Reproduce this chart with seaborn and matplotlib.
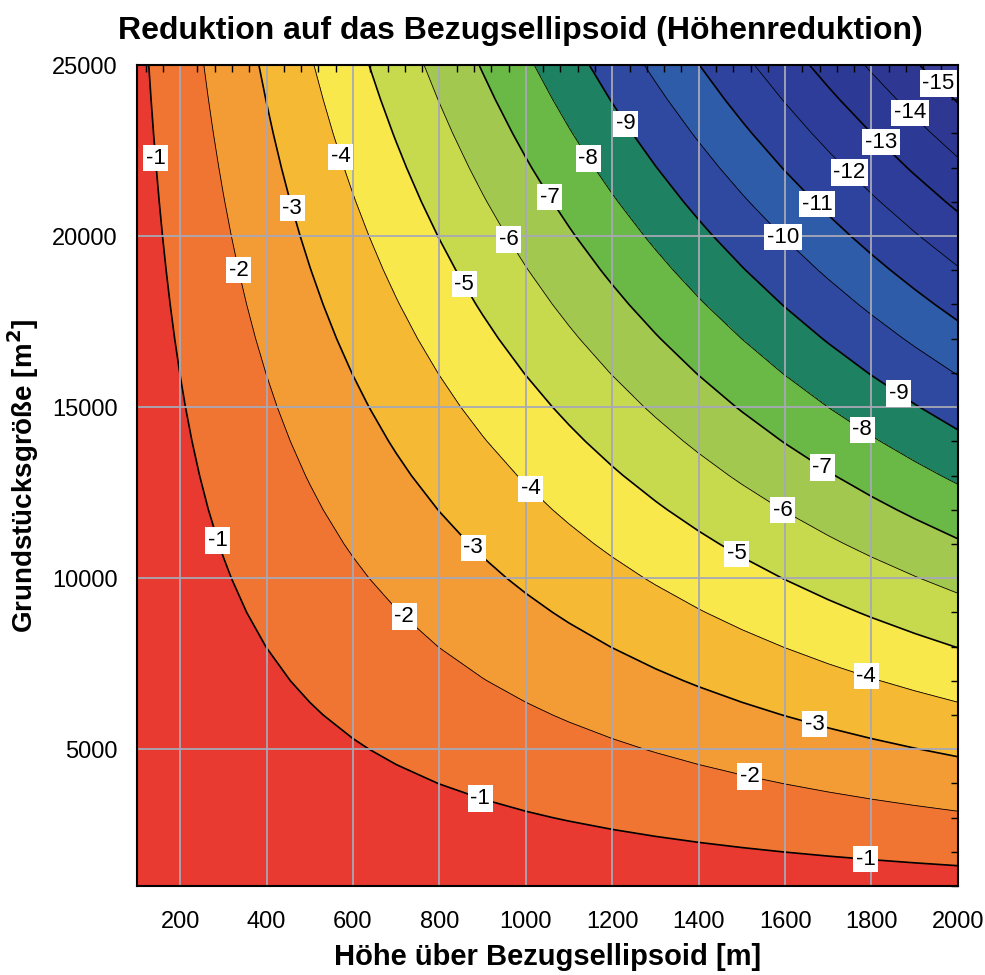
import numpy as np
import matplotlib
matplotlib.use('Agg')
import matplotlib.pyplot as plt
from matplotlib.ticker import MultipleLocator
import seaborn as sns

# Grid of the underlying table (height in m, plot area in m^2)
hoehe = [100, 200, 300, 400, 500, 600, 700, 800, 900, 1000,
         1100, 1200, 1300, 1400, 1500, 1600, 1700, 1800, 1900, 2000]
flaeche = [1000, 2000, 3000, 4000, 5000, 6000, 7000, 8000, 9000, 10000,
           11000, 12000, 13000, 14000, 15000, 16000, 17000, 18000, 19000, 20000,
           21000, 22000, 23000, 24000, 25000]
erdradius = 6371000.0  # m

# contour levels (m^2) and band colours, lowest band first
levels = [-16, -15, -14, -13, -12, -11, -10, -9, -8, -7, -6, -5, -4, -3, -2, -1, 0]
band_colors = ['#3a3f9a', '#2e3892', '#2c3a95', '#2d3d99', '#2e439d', '#2f5ca9',
               '#2f48a0', '#1e8161', '#6ab946', '#a3c850', '#c7d94c', '#f8e84b',
               '#f6b934', '#f39b35', '#f07532', '#e83a30']

# label positions (height, area)
label_pos = [(146, 22281), (290, 11115), (896, 3603), (1787, 1848),
             (338, 19007), (718, 8864), (1519, 4246),
             (461, 20820), (880, 10910), (1669, 5766),
             (570, 22310), (1009, 12577), (1787, 7110),
             (854, 18570), (1489, 10735),
             (959, 19885), (1595, 11992),
             (1056, 21141), (1690, 13320),
             (1146, 22281), (1778, 14331),
             (1234, 23304), (1864, 15412),
             (1595, 19972), (1674, 20937), (1748, 21843),
             (1822, 22750), (1889, 23597), (1956, 24474)]

sns.set_theme(style="white")
plt.rcParams['font.family'] = ['Liberation Sans', 'DejaVu Sans']
plt.rcParams['contour.negative_linestyle'] = 'solid'
for key in ['text.color', 'axes.labelcolor', 'xtick.color', 'ytick.color']:
    plt.rcParams[key] = 'black'

H, A = np.meshgrid(hoehe, flaeche)
reduktion = -2.0 * H * A / erdradius

fig = plt.figure(figsize=(9.85, 9.75), dpi=100)
ax = fig.add_axes([0.139, 0.0913, 0.8335, 0.842])

ax.contourf(H, A, reduktion, levels=levels, colors=band_colors, zorder=1)
line_widths = [1.2 if lv % 2 else 0.6 for lv in levels]
cs = ax.contour(H, A, reduktion, levels=levels, colors='black',
                linewidths=line_widths, linestyles='solid', zorder=2)

labels = ax.clabel(cs, levels=levels[:-1], manual=label_pos, inline=False,
                   fmt='%d', fontsize=16, colors='black')
for t in labels:
    t.set_rotation(0)
    t.set_zorder(5)
    t.set_bbox(dict(boxstyle='square,pad=0.12', fc='white', ec='none'))

ax.set_xlim(100, 2000)
ax.set_ylim(1000, 25000)
ax.xaxis.set_major_locator(MultipleLocator(200))
ax.xaxis.set_minor_locator(MultipleLocator(40))
ax.yaxis.set_major_locator(MultipleLocator(5000))
ax.yaxis.set_minor_locator(MultipleLocator(1000))

ax.set_axisbelow(False)
ax.grid(True, which='major', color='#a7a8b6', linewidth=1.3, zorder=3)

ax.tick_params(which='major', direction='out', length=8, width=1.2,
               labelsize=17, color='black', pad=6)
ax.tick_params(axis='x', which='major', pad=10)
ax.tick_params(which='minor', direction='in', length=5, width=1.0,
               top=True, right=True, color='black')
for sp in ax.spines.values():
    sp.set_color('black')
    sp.set_linewidth(1.5)
    sp.set_zorder(6)

ax.set_xlabel('Höhe über Bezugsellipsoid [m]', fontsize=21,
              fontweight='bold', labelpad=7)
ax.set_ylabel('Grundstücksgröße [m$^\\mathbf{2}$]', fontsize=20,
              fontweight='bold', labelpad=8)
fig.text(0.528, 1 - 31 / 975, 'Reduktion auf das Bezugsellipsoid (Höhenreduktion)',
         ha='center', va='center', fontsize=23, fontweight='bold')

fig.savefig('out.png', dpi=100)
